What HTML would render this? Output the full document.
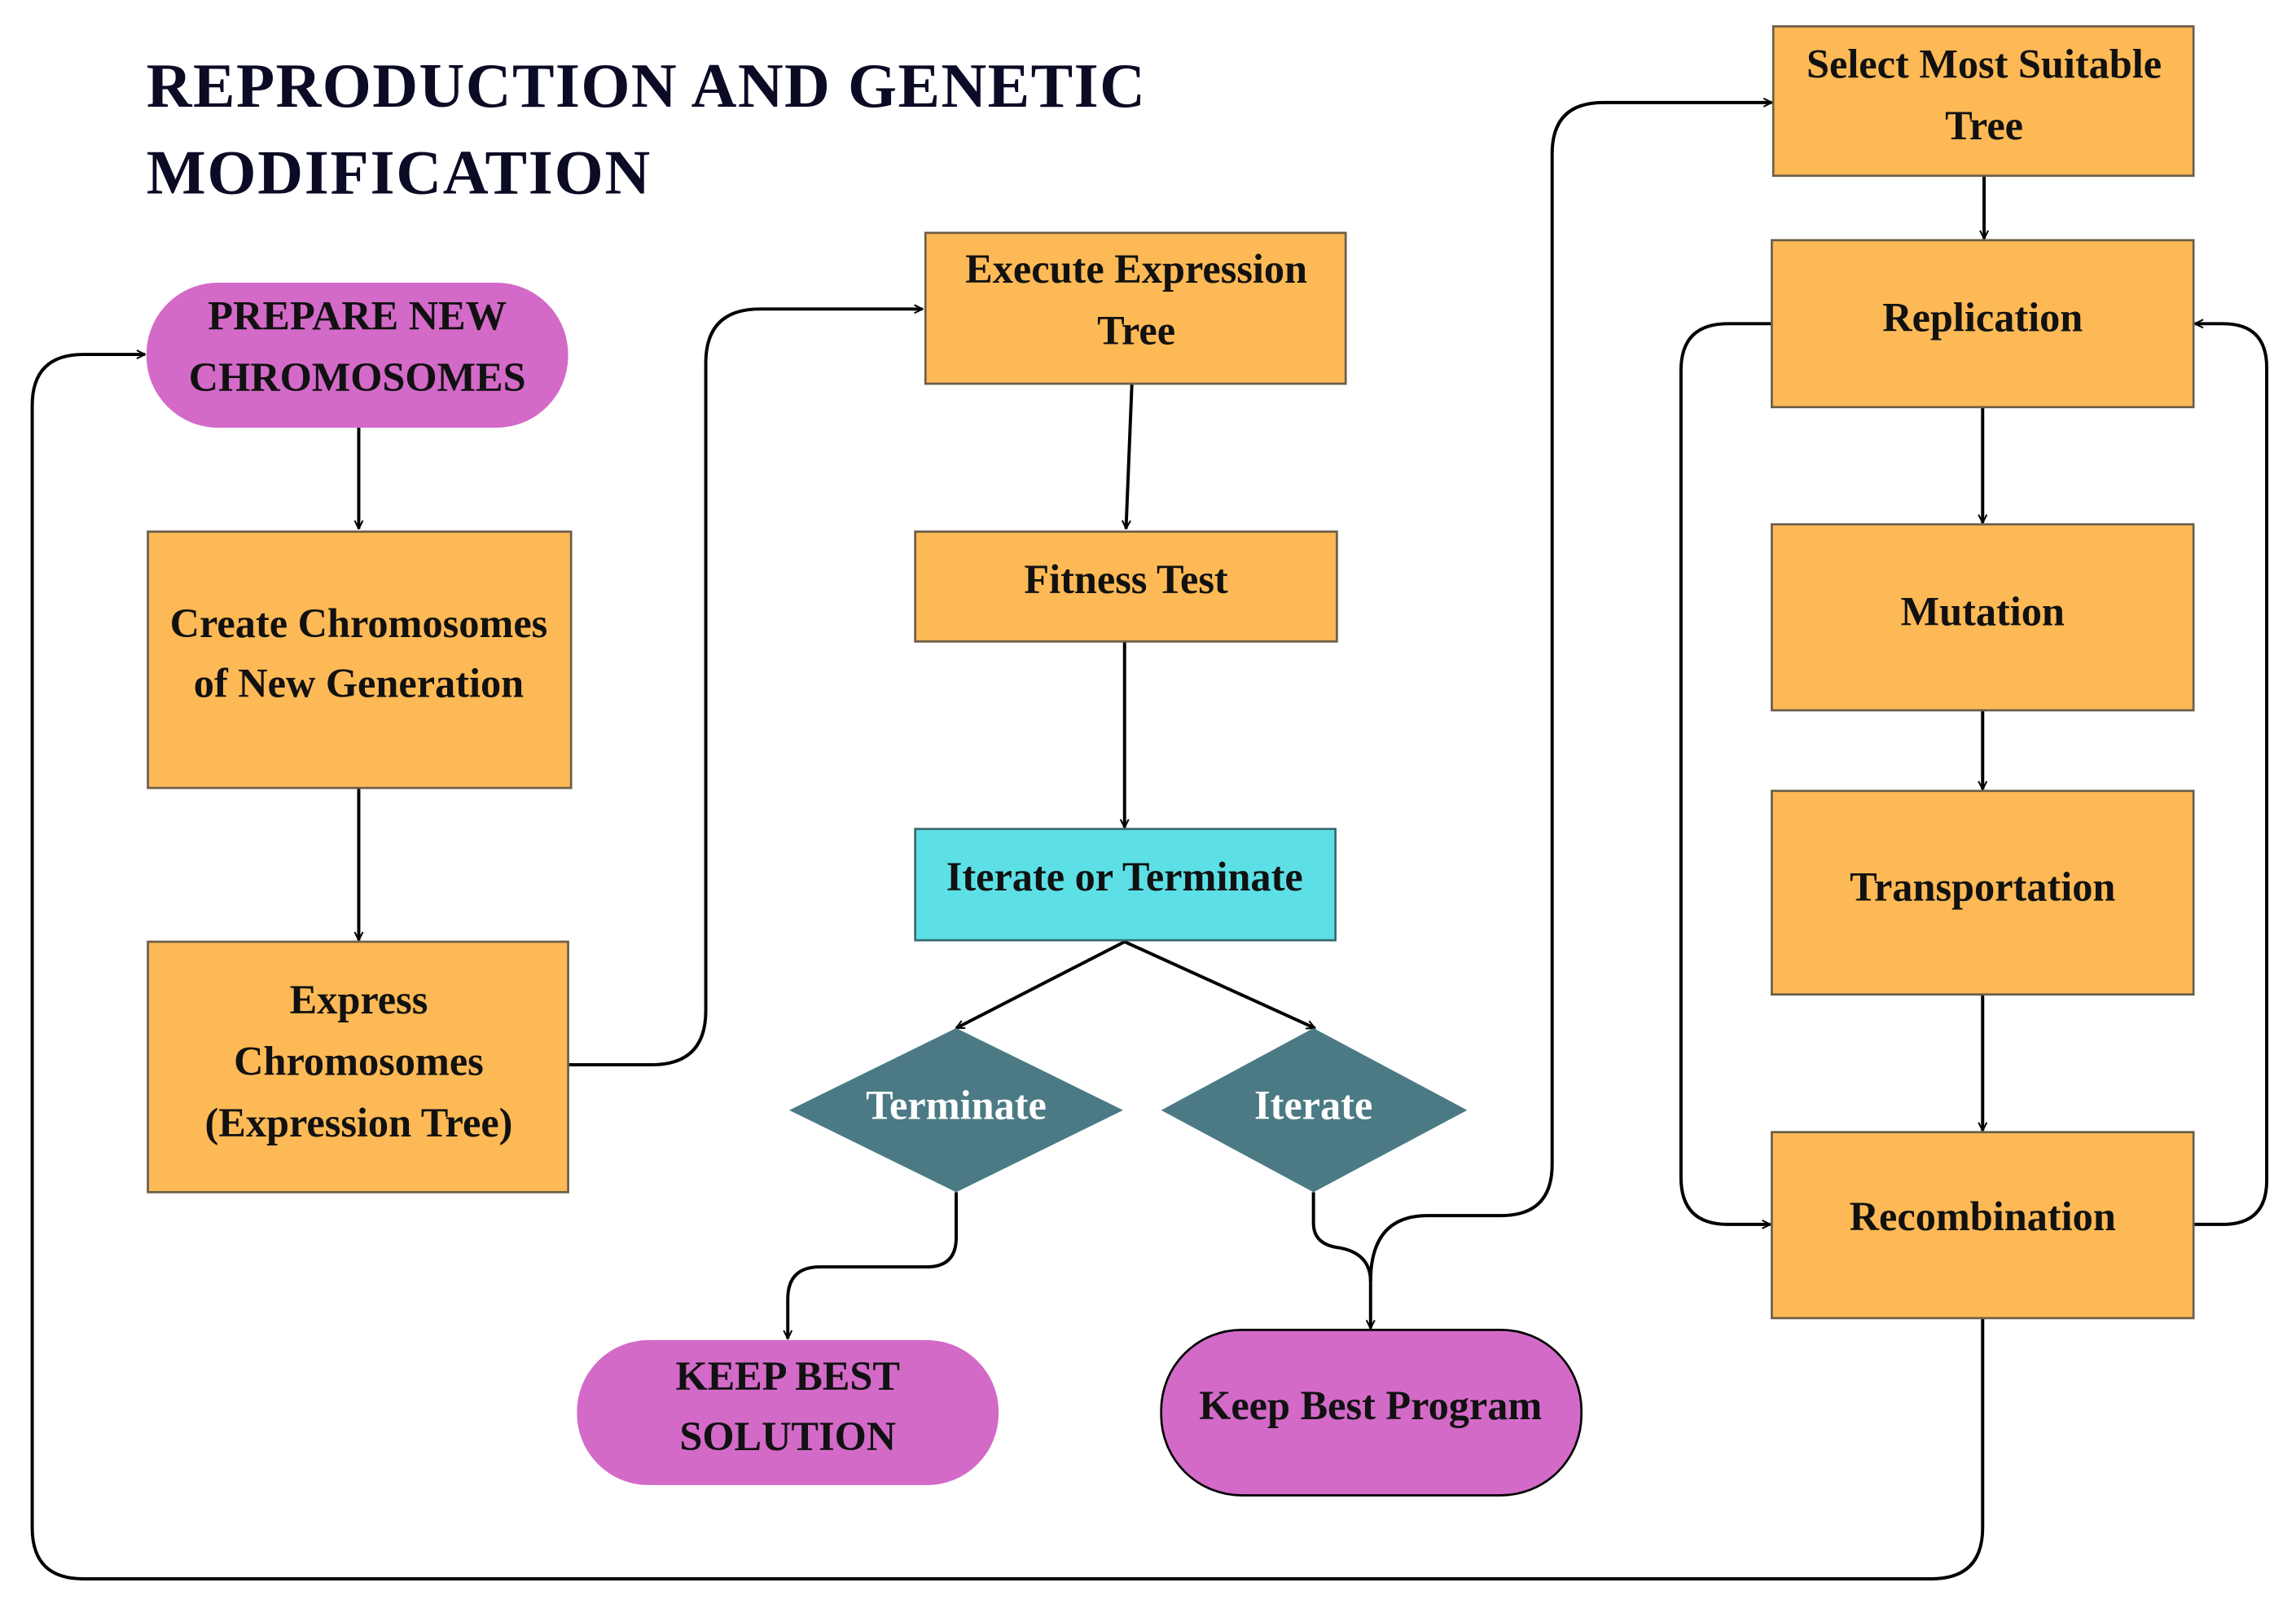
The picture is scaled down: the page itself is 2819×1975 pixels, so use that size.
<!DOCTYPE html>
<html><head><meta charset="utf-8"><style>
html,body{margin:0;padding:0;background:#fff;}
svg{display:block;}
text{font-family:"Liberation Serif",serif;font-weight:bold;text-anchor:middle;}
</style></head><body>
<svg width="2819" height="1975" viewBox="0 0 1568 1098.6" preserveAspectRatio="none" xmlns="http://www.w3.org/2000/svg">
<defs>
<marker id="a" viewBox="0 0 10 10" refX="9" refY="5" markerWidth="7" markerHeight="7" orient="auto" markerUnits="userSpaceOnUse">
<path d="M1,1 L9,5 L1,9" fill="none" stroke="#000" stroke-width="1.6"/>
</marker>
</defs>
<rect width="1568" height="1099" fill="#fff"/>
<text x="100" y="73" style="text-anchor:start;font-size:43px;fill:#0b0b25" textLength="682">REPRODUCTION AND GENETIC</text>
<text x="100" y="132" style="text-anchor:start;font-size:43px;fill:#0b0b25" textLength="344">MODIFICATION</text>

<g fill="none" stroke="#000" stroke-width="2.2">
<path d="M245,292 L245,361" marker-end="url(#a)"/>
<path d="M245,538 L245,642" marker-end="url(#a)"/>
<path d="M388,727 L445,727 Q482,727 482,690 L482,248 Q482,211 519,211 L630,211" marker-end="url(#a)"/>
<path d="M773,262 L769,361" marker-end="url(#a)"/>
<path d="M768,438 L768,565" marker-end="url(#a)"/>
<path d="M768,643 L653,702" marker-end="url(#a)"/>
<path d="M768,643 L898,702" marker-end="url(#a)"/>
<path d="M653,814 L653,845 Q653,865 633,865 L560,865 Q538,865 538,887 L538,914" marker-end="url(#a)"/>
<path d="M897,814 L897,835 Q897,850 915,852 Q936,856 936,875 L936,907" marker-end="url(#a)"/>
<path d="M936,875 Q936,830 975,830 L1025,830 Q1060,830 1060,795 L1060,105 Q1060,70 1095,70 L1210,70" marker-end="url(#a)"/>
<path d="M1355,120 L1355,163" marker-end="url(#a)"/>
<path d="M1354,278 L1354,357" marker-end="url(#a)"/>
<path d="M1354,485 L1354,539" marker-end="url(#a)"/>
<path d="M1354,679 L1354,772" marker-end="url(#a)"/>
<path d="M1210,221 L1180,221 Q1148,221 1148,253 L1148,804 Q1148,836 1180,836 L1209,836" marker-end="url(#a)"/>
<path d="M1498,836 L1518,836 Q1548,836 1548,806 L1548,251 Q1548,221 1518,221 L1499,221" marker-end="url(#a)"/>
<path d="M1354,900 L1354,1043 Q1354,1078 1319,1078 L57,1078 Q22,1078 22,1043 L22,277 Q22,242 57,242 L99,242" marker-end="url(#a)"/>
</g>

<g stroke="#6b5e4a" stroke-width="1.5" fill="#fdb955">
<rect x="101" y="363" width="289" height="175"/>
<rect x="101" y="643" width="287" height="171"/>
<rect x="632" y="159" width="287" height="103"/>
<rect x="625" y="363" width="288" height="75"/>
<rect x="1211" y="18" width="287" height="102"/>
<rect x="1210" y="164" width="288" height="114"/>
<rect x="1210" y="358" width="288" height="127"/>
<rect x="1210" y="540" width="288" height="139"/>
<rect x="1210" y="773" width="288" height="127"/>
</g>
<rect x="625" y="566" width="287" height="76" fill="#5ce0e6" stroke="#3a6a70" stroke-width="1.5"/>
<rect x="100" y="193" width="288" height="99" rx="49" fill="#d36ac8"/>
<rect x="394" y="915" width="288" height="99" rx="49" fill="#d36ac8"/>
<rect x="793" y="908" width="287" height="113" rx="55" fill="#d36ac8" stroke="#000" stroke-width="1.5"/>
<polygon points="653,702 767,758 653,814 539,758" fill="#4b7a85"/>
<polygon points="897,702 1002,758 897,814 793,758" fill="#4b7a85"/>

<g style="font-size:28px;fill:#111">
<text x="244" y="225">PREPARE NEW</text>
<text x="244" y="267">CHROMOSOMES</text>
<text x="245" y="435">Create Chromosomes</text>
<text x="245" y="476">of New Generation</text>
<text x="245" y="692">Express</text>
<text x="245" y="734">Chromosomes</text>
<text x="245" y="776">(Expression Tree)</text>
<text x="776" y="193">Execute Expression</text>
<text x="776" y="235">Tree</text>
<text x="769" y="405">Fitness Test</text>
<text x="768" y="608">Iterate or Terminate</text>
<text x="538" y="949">KEEP BEST</text>
<text x="538" y="990">SOLUTION</text>
<text x="936" y="969">Keep Best Program</text>
<text x="1355" y="53">Select Most Suitable</text>
<text x="1355" y="95">Tree</text>
<text x="1354" y="226">Replication</text>
<text x="1354" y="427">Mutation</text>
<text x="1354" y="615">Transportation</text>
<text x="1354" y="840">Recombination</text>
</g>
<g style="font-size:28px;fill:#fff">
<text x="653" y="764">Terminate</text>
<text x="897" y="764">Iterate</text>
</g>
</svg>
</body></html>
